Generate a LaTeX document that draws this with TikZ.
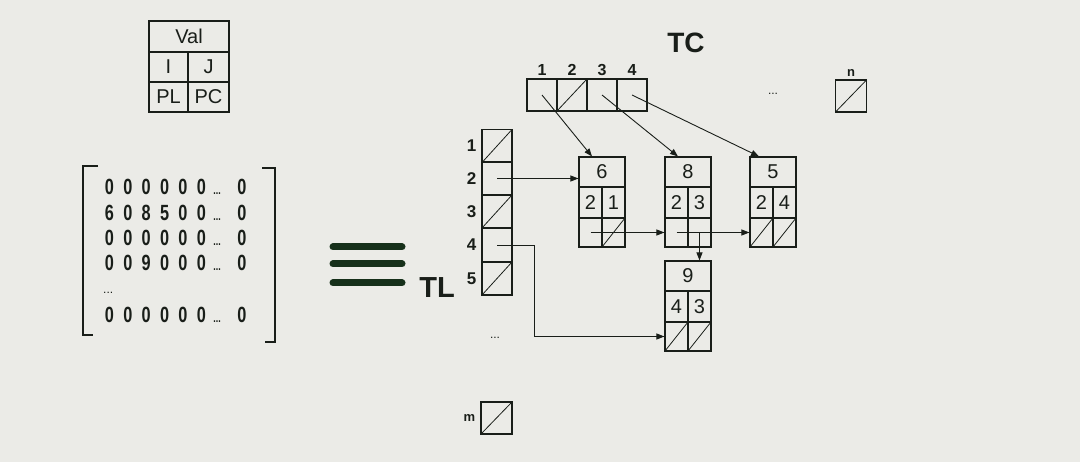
\documentclass[tikz,border=0pt]{standalone}
\usepackage{fontspec}
\setmainfont{Liberation Sans}
\newfontfamily\matfont[FakeStretch=0.74]{Liberation Sans}
\usepackage{tikz}
\usetikzlibrary{positioning, calc, arrows.meta}
\definecolor{paper}{RGB}{235,235,231}
\definecolor{ink}{RGB}{25,30,25}
\definecolor{barink}{RGB}{22,48,26}

% one list element: name, left, top, value, row, column, looks of the two pointer cells
\newcommand{\elem}[8]{%
  \node[cell, minimum width=46pt, minimum height=30pt] (#1v) at (#2+23,#3+15) {#4};
  \node[cell, minimum height=31pt] (#1i) at (#2+11.5,#3+45.5) {#5};
  \node[cell, minimum height=31pt] (#1j) at (#2+34.5,#3+45.5) {#6};
  \node[cell, minimum height=29pt, #7] (#1l) at (#2+11.5,#3+75.5) {};
  \node[cell, minimum height=29pt, #8] (#1c) at (#2+34.5,#3+75.5) {};
}
% one row of the matrix
\newcommand{\mrow}[1]{\foreach \d in {#1}{\makebox[18.4pt]{\d}}%
  \makebox[13pt]{\fontsize{12}{12}\selectfont ...}\hspace{9pt}\makebox[18.4pt]{0}}

\begin{document}
\begin{tikzpicture}[x=1pt, y=-1pt,
  cell/.style={draw=ink, line width=1.1pt, minimum width=23pt, inner sep=0pt,
    text=ink, font=\fontsize{20}{20}\selectfont},
  cross/.style={path picture={\draw[ink, line width=0.8pt]
    (path picture bounding box.south west) -- (path picture bounding box.north east);}},
  plain/.style={},
  lab/.style={font=\bfseries\fontsize{16}{16}\selectfont, text=ink, inner sep=0pt},
  conn/.style={draw=ink, line width=0.9pt, -{Triangle[length=8pt,width=6pt]}},
  mat/.style={anchor=west, inner sep=0pt, text=ink, font=\matfont\bfseries\fontsize{22}{22}\selectfont}]
  \fill[paper] (0,0) rectangle (1080,462);
  \useasboundingbox (0,0) rectangle (1080,462);

  % legend of one element
  \node[cell, minimum width=80pt, minimum height=31pt] (val) at (189,36.5) {Val};
  \node[cell, minimum width=39pt, minimum height=30pt] (ci) at (168.5,67) {I};
  \node[cell, minimum width=41pt, minimum height=30pt] (cj) at (208.5,67) {J};
  \node[cell, minimum width=39pt, minimum height=30pt] (cpl) at (168.5,97) {PL};
  \node[cell, minimum width=41pt, minimum height=30pt] (cpc) at (208.5,97) {PC};

  % the matrix
  \draw[ink, line width=1.3pt] (98,166) -- (83,166) -- (83,335) -- (93,335);
  \draw[ink, line width=1.3pt] (262,168) -- (275,168) -- (275,342) -- (265,342);
  \node[mat] (r1) at (100,187) {\mrow{0,0,0,0,0,0}};
  \node[mat] (r2) at (100,213) {\mrow{6,0,8,5,0,0}};
  \node[mat] (r3) at (100,238) {\mrow{0,0,0,0,0,0}};
  \node[mat] (r4) at (100,263) {\mrow{0,0,9,0,0,0}};
  \node[mat, font=\fontsize{12}{12}\selectfont] (r5) at (103,293) {...};
  \node[mat] (r6) at (100,315) {\mrow{0,0,0,0,0,0}};

  % equivalence sign
  \foreach \y in {247,264,283}
    \draw[barink, line width=7pt, line cap=round] (333,\y) -- (402,\y);
  \node[text=ink, font=\bfseries\fontsize{29}{29}\selectfont] (tltext) at (437,288) {TL};
  \node[text=ink, font=\bfseries\fontsize{28}{28}\selectfont] (tctext) at (686,43) {TC};

  % column heads
  \foreach \i/\x/\s in {1/542/plain,2/572/cross,3/602/plain,4/632/plain}
    \node[cell, minimum width=30pt, minimum height=32pt, \s,
      label={[lab, label distance=3pt]above:\i}] (tc\i) at (\x,95) {};
  \node[text=ink, font=\fontsize{12}{12}\selectfont] (tcdots) at (773,94) {...};
  \node[cell, minimum width=31pt, minimum height=32pt, cross,
    label={[lab, font=\bfseries\fontsize{13}{13}\selectfont, label distance=3pt]above:n}] (tcn) at (851,96) {};

  % line heads
  \foreach \i/\y/\s in {1/146/cross,2/178.5/plain,3/211.5/cross,4/245/plain,5/278.5/cross}
    \node[cell, minimum width=30pt, minimum height=33pt, \s,
      label={[lab, font=\bfseries\fontsize{17}{17}\selectfont, label distance=5pt]left:\i}] (tl\i) at (497,\y) {};
  \node[text=ink, font=\fontsize{12}{12}\selectfont] (tldots) at (495,338) {...};
  \node[cell, minimum width=31pt, minimum height=32pt, cross,
    label={[lab, font=\bfseries\fontsize{13}{13}\selectfont, label distance=5pt]left:m}] (tlm) at (496.5,418) {};

  % the elements
  \elem{n6}{579}{157}{6}{2}{1}{plain}{cross}
  \elem{n8}{665}{157}{8}{2}{3}{plain}{plain}
  \elem{n5}{750}{157}{5}{2}{4}{cross}{cross}
  \elem{n9}{665}{261}{9}{4}{3}{cross}{cross}

  % links
  \draw[conn] (tc1.center) -- ([xshift=-10pt]n6v.north);
  \draw[conn] (tc3.center) -- ([xshift=-10pt]n8v.north);
  \draw[conn] (tc4.center) -- ([xshift=-14pt]n5v.north);
  \draw[conn] (tl2.center) -- (tl2.center -| n6v.west);
  \draw[conn] (tl4.center) -- ++(37,0) |- (n9l.west);
  \draw[conn] (n6l.center) -- (n6l.center -| n8l.west);
  \draw[conn] (n8l.center) -- (n8l.center -| n5l.west);
  \draw[conn] (n8c.center) -- (n8c.center |- n9v.north);
\end{tikzpicture}
\end{document}
